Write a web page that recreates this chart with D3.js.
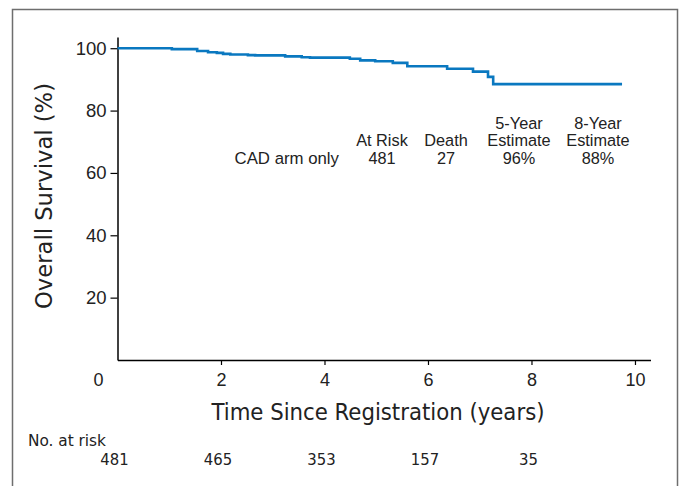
<!DOCTYPE html>
<html>
<head>
<meta charset="utf-8">
<script src="https://cdn.jsdelivr.net/npm/d3@7"></script>
<style>
  html, body { margin: 0; padding: 0; background: #fff; }
  svg { display: block; }
  .cond { font-family: "Liberation Sans Narrow", "Arial Narrow", "DejaVu Sans Condensed", "Liberation Sans", sans-serif; font-stretch: condensed; }
  .reg { font-family: "Liberation Sans", Arial, Helvetica, sans-serif; }
</style>
</head>
<body>
<svg id="chart" width="681" height="486"></svg>
<script>
// ---- Data ----
const times    = [0, 1.05, 1.54, 1.75, 1.92, 2.04, 2.18, 2.52, 2.66, 3.24, 3.56, 3.72, 4.49, 4.69, 4.98, 5.32, 5.60, 6.37, 6.87, 7.16, 7.26, 9.75];
const survival = [100, 99.7, 99.1, 98.7, 98.5, 98.2, 98.0, 97.8, 97.7, 97.4, 97.1, 97.0, 96.6, 96.1, 95.8, 95.3, 94.2, 93.4, 92.5, 90.8, 88.5, 88.5];
const xTicks = [0, 2, 4, 6, 8, 10];
const yTicks = [20, 40, 60, 80, 100];
const atRiskTimes = [0, 2, 4, 6, 8];
const atRiskCounts = [481, 465, 353, 157, 35];
const legendHeaders = [["At Risk"], ["Death"], ["5-Year", "Estimate"], ["8-Year", "Estimate"]];
const legendValues = ["481", "27", "96%", "88%"];
const armLabel = "CAD arm only";

const svg = d3.select("#chart");
const blue = "#0a78c0";

// frame
svg.append("rect").attr("x", 12.5).attr("y", 9.5).attr("width", 665).attr("height", 500)
  .attr("fill", "none").attr("stroke", "#6e6e6e").attr("stroke-width", 1.5);

const x = d3.scaleLinear().domain([0, 10.3]).range([117.5, 650.5]);
const y = d3.scaleLinear().domain([0, 103.6]).range([360, 37]);

// x axis
const xAxis = d3.axisBottom(x).tickValues(xTicks).tickSize(5).tickSizeOuter(0).tickPadding(8).tickFormat(d3.format("d"));
const gx = svg.append("g").attr("transform", "translate(0,360)").call(xAxis);
gx.select(".domain").attr("stroke", "#000").attr("stroke-width", 1.5);
gx.selectAll(".tick line").attr("stroke", "#000").attr("stroke-width", 1.2);
gx.selectAll(".tick").filter(d => d === 0).select("line").remove();
gx.selectAll(".tick text").attr("class", "reg").attr("font-size", 18).attr("fill", "#222")
  .attr("dx", d => d === 0 ? -19.5 : 0).attr("font-family", null);
gx.attr("font-family", null).attr("font-size", null);

// y axis
const yAxis = d3.axisLeft(y).tickValues(yTicks).tickSize(7).tickSizeOuter(0).tickPadding(4).tickFormat(d3.format("d"));
const gy = svg.append("g").attr("transform", "translate(117.5,0)").call(yAxis);
gy.select(".domain").attr("stroke", "#000").attr("stroke-width", 1.5);
gy.selectAll(".tick line").attr("stroke", "#000").attr("stroke-width", 1.2);
gy.selectAll(".tick text").attr("class", "reg").attr("font-size", 18.5).attr("fill", "#222");
gy.attr("font-family", null).attr("font-size", null);

// KM curve
const pts = times.map((t, i) => [t, survival[i]]);
const line = d3.line().x(d => x(d[0])).y(d => y(d[1])).curve(d3.curveStepAfter);
svg.append("path").datum(pts).attr("d", line).attr("fill", "none")
  .attr("stroke", blue).attr("stroke-width", 2.6);

// axis titles
svg.append("text").attr("class", "cond").attr("x", 378).attr("y", 420)
  .attr("text-anchor", "middle").attr("font-size", 23).attr("fill", "#222")
  .attr("textLength", 333).attr("lengthAdjust", "spacingAndGlyphs")
  .text("Time Since Registration (years)");
svg.append("text").attr("class", "cond")
  .attr("transform", "translate(52,196) rotate(-90)")
  .attr("text-anchor", "middle").attr("font-size", 23).attr("fill", "#222")
  .attr("textLength", 226).attr("lengthAdjust", "spacingAndGlyphs")
  .text("Overall Survival (%)");

// legend table
const colX = [382, 446, 519, 598];
legendHeaders.forEach((lines, i) => {
  lines.forEach((s, j) => {
    const yy = 146 - (lines.length - 1 - j) * 17;
    svg.append("text").attr("class", "reg").attr("x", colX[i]).attr("y", yy)
      .attr("text-anchor", "middle").attr("font-size", 16.3).attr("fill", "#222").text(s);
  });
  svg.append("text").attr("class", "reg").attr("x", colX[i]).attr("y", 164)
    .attr("text-anchor", "middle").attr("font-size", 16.3).attr("fill", "#222").text(legendValues[i]);
});
svg.append("text").attr("class", "reg").attr("x", 339).attr("y", 164)
  .attr("text-anchor", "end").attr("font-size", 16.8).attr("fill", "#222").text(armLabel);

// numbers at risk
svg.append("text").attr("class", "cond").attr("x", 28).attr("y", 446)
  .attr("font-size", 16).attr("fill", "#222")
  .attr("textLength", 78).attr("lengthAdjust", "spacingAndGlyphs").text("No. at risk");
svg.selectAll(".nrisk").data(atRiskTimes).enter().append("text")
  .attr("class", "cond nrisk").attr("x", d => x(d) - 3).attr("y", 465)
  .attr("text-anchor", "middle").attr("font-size", 16.5).attr("fill", "#222")
  .text((d, i) => atRiskCounts[i]);
</script>
</body>
</html>
